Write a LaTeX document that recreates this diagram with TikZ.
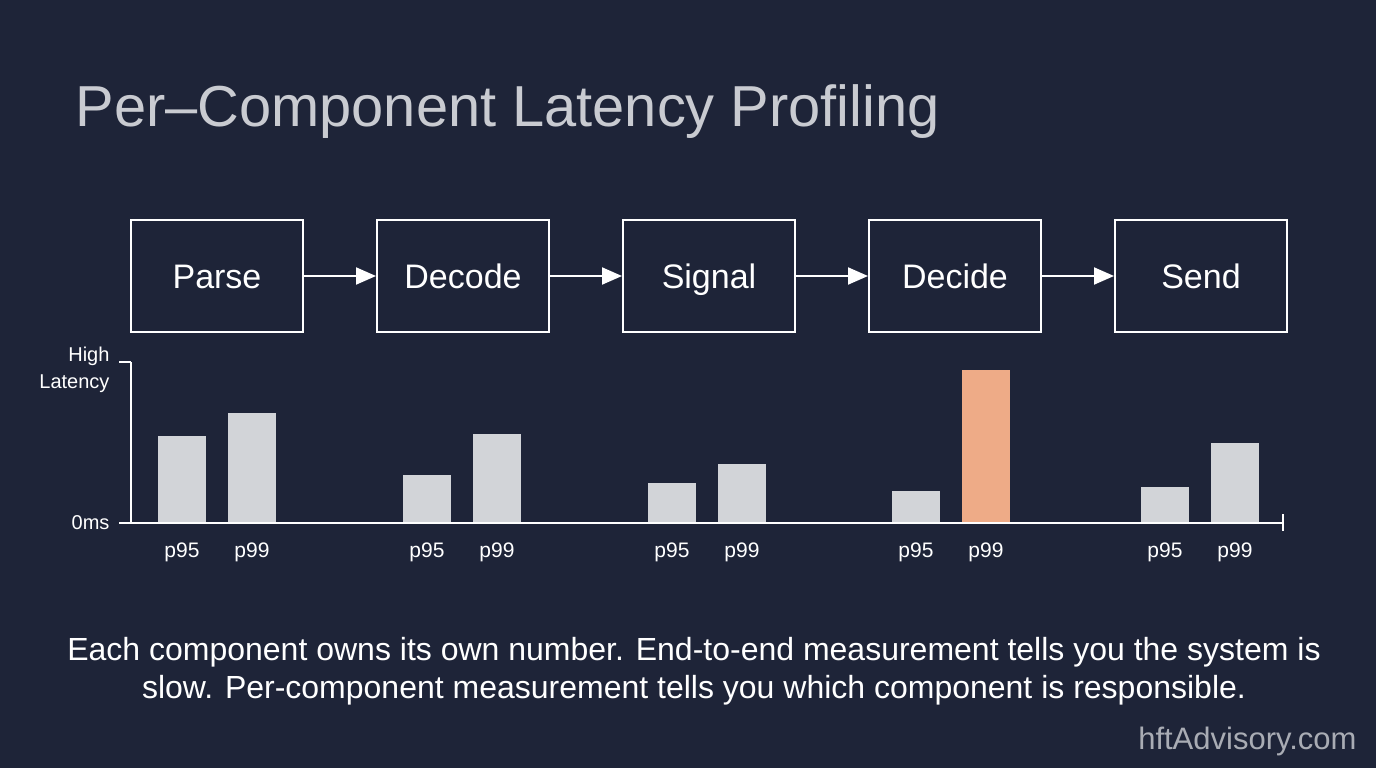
\documentclass[tikz,border=0pt]{standalone}
\usepackage{fontspec}
\setmainfont{Liberation Sans}
\usetikzlibrary{positioning}
\usetikzlibrary{arrows.meta}
\definecolor{bg}{HTML}{1E2438}
\definecolor{bargray}{HTML}{D2D4D8}
\definecolor{hot}{HTML}{EEAB87}
\definecolor{titlegray}{HTML}{C9CBD1}
\definecolor{markgray}{HTML}{A9ACB4}
\tikzset{
  % pipeline stage
  stage/.style = {
    draw = white,
    line width = 2pt,
    minimum width = 172pt,
    minimum height = 112pt,
    text height = 24pt,
    text depth = 0pt,
    text = white,
    font = \fontsize{34}{34}\selectfont
  },
  flow/.style = {
    draw = white,
    line width = 2pt,
    -{Triangle[length=20pt,width=17pt]}
  },
  axis/.style = {
    draw = white,
    line width = 2pt
  },
  % latency bar
  bar/.style = {
    fill = bargray,
    draw = none,
    minimum width = 48pt,
    inner sep = 0,
    anchor = south
  },
  pct/.style = {
    text = white,
    font = \fontsize{21}{21}\selectfont,
    anchor = north
  },
  node distance = 72pt
}
\begin{document}
\begin{tikzpicture}[x=1pt, y=-1pt]
    \fill[bg] (0,0) rectangle (1376,768);
    \useasboundingbox (0,0) rectangle (1376,768);

    \node[anchor=west, text=titlegray, font=\fontsize{57.8}{58}\selectfont] (title)
      at (72,112) {Per--Component Latency Profiling};

    \node[stage] (parse) at (217,276) {Parse};
    \node[stage] (decode) [right=of parse] {Decode};
    \node[stage] (signal) [right=of decode] {Signal};
    \node[stage] (decide) [right=of signal] {Decide};
    \node[stage] (send) [right=of decide] {Send};

    \draw [flow] (parse) -- (decode);
    \draw [flow] (decode) -- (signal);
    \draw [flow] (signal) -- (decide);
    \draw [flow] (decide) -- (send);

    % axes
    \coordinate (origin) at (131,523);
    \coordinate (top) at (131,362);
    \coordinate (end) at (1283,523);
    \draw [axis] (top) -- (origin) -- (end);
    \draw [axis] (top) -- ++(-12,0);
    \draw [axis] (origin) -- ++(-12,0);
    \draw [axis] (1283,514) -- (1283,531);
    \node[anchor=east, align=right, text=white, font=\fontsize{20}{27}\selectfont]
      (high) at (113,370) {High\\Latency};
    \node[anchor=east, text=white, font=\fontsize{20}{20}\selectfont]
      (zero) at (113,523) {0ms};

    % bars: name / p95 x / p95 height / p99 x
    \foreach \name/\xa/\ha/\xb in {
        parse/182/87/252,
        decode/427/48/497,
        signal/672/40/742,
        decide/916/32/986,
        send/1165/36/1235} {
      \node[bar, minimum height=\ha pt] (\name-95) at (\xa,523) {};
      \node[pct] (\name-95-lbl) at (\xa,539) {p95};
      \node[pct] (\name-99-lbl) at (\xb,539) {p99};
    }
    \node[bar, minimum height=110pt] (parse-99) at (252,523) {};
    \node[bar, minimum height=89pt] (decode-99) at (497,523) {};
    \node[bar, minimum height=59pt] (signal-99) at (742,523) {};
    \node[bar, fill=hot, minimum height=153pt] (decide-99) at (986,523) {};
    \node[bar, minimum height=80pt] (send-99) at (1235,523) {};
    \draw [axis] (origin) -- (end);

    \node[align=center, text=white, font=\fontsize{32}{38}\selectfont]
      (note) at (694,671)
      {Each component owns its own number. End-to-end measurement tells you the system is\\
       slow. Per-component measurement tells you which component is responsible.};

    \node[anchor=east, text=markgray, font=\fontsize{31}{31}\selectfont]
      (mark) at (1360,741) {hftAdvisory.com};
\end{tikzpicture}
\end{document}
